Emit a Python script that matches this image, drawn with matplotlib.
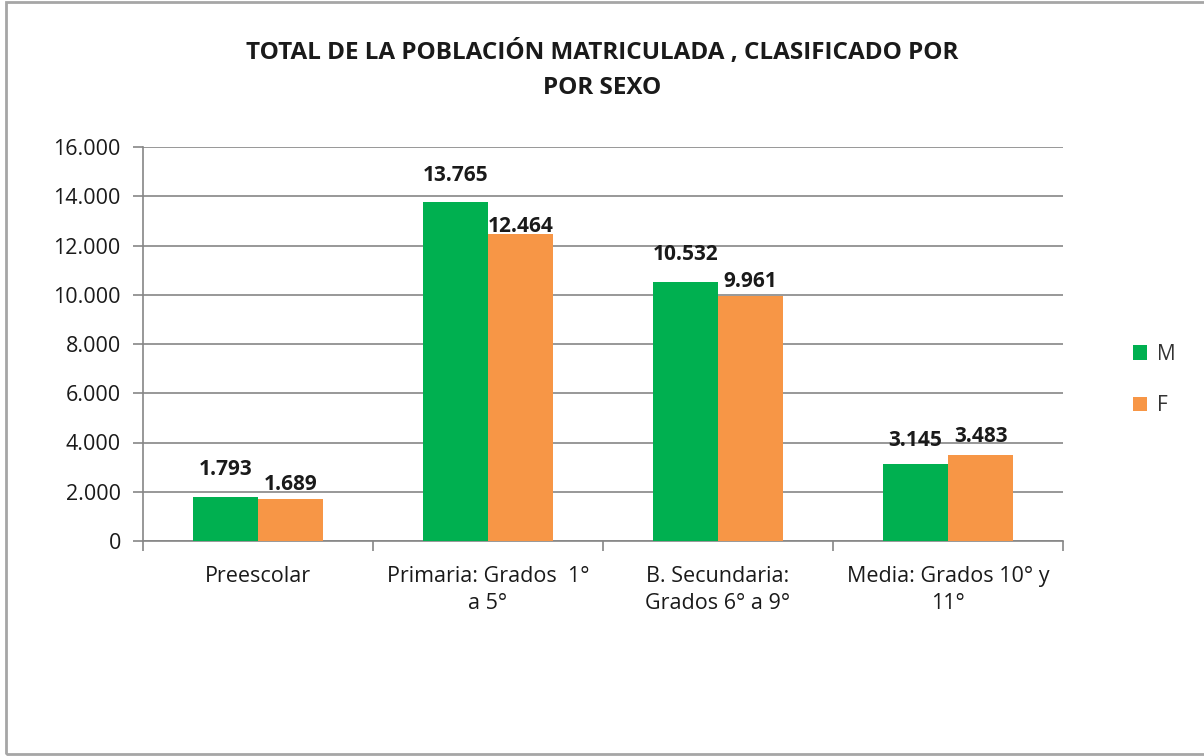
import matplotlib
matplotlib.use('Agg')
import matplotlib.pyplot as plt
import numpy as np
from matplotlib.patches import Rectangle
from matplotlib.ticker import FuncFormatter

# ---------------------------------------------------------------------------
# Data
# ---------------------------------------------------------------------------
categories = ['Preescolar', 'Primaria: Grados  1°\na 5°',
              'B. Secundaria:\nGrados 6° a 9°', 'Media: Grados 10° y\n11°']
male = [1793, 13765, 10532, 3145]
female = [1689, 12464, 9961, 3483]
yticks = [0, 2000, 4000, 6000, 8000, 10000, 12000, 14000, 16000]

# label lift above each bar (pixels) – Excel labels sit unevenly
lift_m = [27, 27, 27, 23]
lift_f = [15, 8, 14, 19]

GREEN = '#00B050'
ORANGE = '#F79646'
GRID = '#868686'
TXT = '#1a1a1a'

plt.rcParams['font.family'] = ['Open Sans', 'DejaVu Sans']


def thousands(v, _pos=None):
    return f'{int(v):,}'.replace(',', '.')


fig = plt.figure(figsize=(12.04, 7.56), dpi=100)
ax = fig.add_axes([143 / 1204, 1 - 541 / 756, 920 / 1204, 394 / 756])

x = np.arange(len(categories))
w = 0.283
b1 = ax.bar(x - w / 2, male, w, color=GREEN, label='M', zorder=3)
b2 = ax.bar(x + w / 2, female, w, color=ORANGE, label='F', zorder=3)

for bars, lifts in ((b1, lift_m), (b2, lift_f)):
    for rect, lift in zip(bars, lifts):
        h = rect.get_height()
        ax.annotate(thousands(h), (rect.get_x() + rect.get_width() / 2, h),
                    xytext=(0, lift * 0.72), textcoords='offset points',
                    ha='center', va='center', fontsize=15,
                    fontweight='bold', color=TXT, zorder=4)

ax.set_xlim(-0.5, len(categories) - 0.5)
ax.set_ylim(0, 16000)
ax.set_yticks(yticks)
ax.yaxis.set_major_formatter(FuncFormatter(thousands))
ax.yaxis.grid(True, color=GRID, lw=1.2, zorder=0)

# category labels centred, tick marks at category boundaries
ax.set_xticks(x)
ax.set_xticklabels(categories, fontsize=15.5, color=TXT, linespacing=1.4)
ax.set_xticks(np.arange(-0.5, len(categories)), minor=True)
ax.tick_params(axis='x', which='major', length=0, pad=18)
ax.tick_params(axis='x', which='minor', length=7, color=GRID, width=1.2)
ax.tick_params(axis='y', length=7, color=GRID, width=1.2,
               labelsize=15.5, labelcolor=TXT, pad=9)

for side in ('top', 'right'):
    ax.spines[side].set_visible(False)
for side in ('left', 'bottom'):
    ax.spines[side].set_color(GRID)
    ax.spines[side].set_linewidth(1.2)

fig.text(0.5, 1 - 70 / 756,
         'TOTAL DE LA POBLACIÓN MATRICULADA , CLASIFICADO POR\nPOR SEXO',
         ha='center', va='center', fontsize=17.5, fontweight='bold',
         color=TXT, linespacing=1.6)

ax.legend(loc='center left', bbox_to_anchor=(1114 / 1204, 1 - 380 / 756),
          bbox_transform=fig.transFigure, frameon=False, fontsize=15,
          handlelength=0.7, handleheight=0.7, handletextpad=0.45,
          labelspacing=1.45)
for t in ax.get_legend().get_texts():
    t.set_color('#333333')

# outer chart frame (right edge runs off the picture)
fig.patches.append(Rectangle((6 / 1204, 2 / 756), 1.2, 752 / 756,
                             transform=fig.transFigure, fill=False,
                             edgecolor='#a6a6a6', lw=2))

fig.savefig('out.png', dpi=100)
